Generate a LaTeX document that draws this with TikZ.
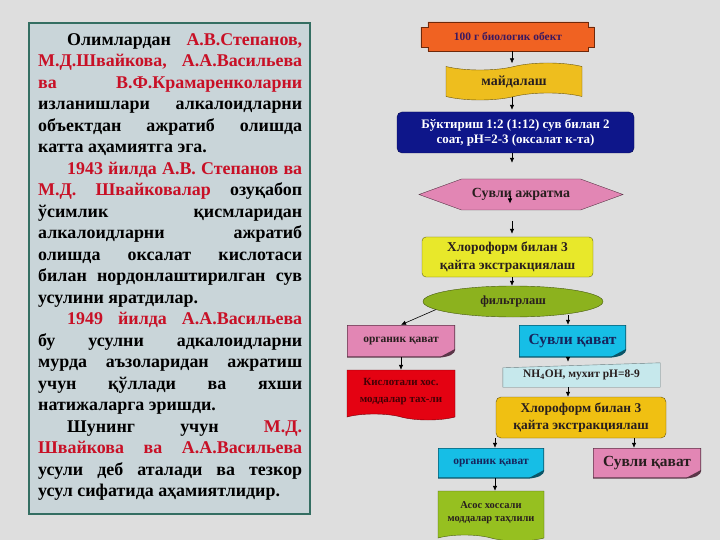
\documentclass[tikz,border=0pt]{standalone}
\usepackage{fontspec}
\setmainfont{Liberation Serif}
\usetikzlibrary{arrows.meta,shapes.geometric,shapes.symbols,backgrounds}

\definecolor{bgc}{RGB}{222,222,222}
\definecolor{panelfill}{RGB}{201,213,217}
\definecolor{paneledge}{RGB}{52,110,98}
\definecolor{namered}{RGB}{200,16,38}
\definecolor{objfill}{RGB}{240,98,34}
\definecolor{objedge}{RGB}{110,40,10}
\definecolor{objtext}{RGB}{58,24,96}
\definecolor{tapefill}{RGB}{238,190,30}
\definecolor{navyfill}{RGB}{14,22,138}
\definecolor{pinkfill}{RGB}{226,134,180}
\definecolor{yelfill}{RGB}{232,232,42}
\definecolor{olivefill}{RGB}{140,178,30}
\definecolor{cyanfill}{RGB}{22,190,230}
\definecolor{redfill}{RGB}{228,2,18}
\definecolor{nhfill}{RGB}{198,232,236}
\definecolor{goldfill}{RGB}{240,192,18}
\definecolor{greenfill}{RGB}{150,192,32}
\definecolor{darktext}{RGB}{40,30,30}
\definecolor{navytext}{RGB}{22,36,92}

\newlength{\panelw}
\setlength{\panelw}{264bp}
\newcommand{\pline}[1]{\makebox[\panelw][s]{#1}}
\newcommand{\pend}[1]{\makebox[\panelw][l]{#1}}
\newcommand{\nm}[1]{\textcolor{namered}{#1}}
\newcommand{\pind}{\hspace*{29bp}}
\newcommand{\fsz}[2]{\fontsize{#1}{#2}\selectfont\bfseries}

\tikzset{
    box/.style={align=center, inner sep=1bp, text=darktext},
    arr/.style={-{Latex[length=5bp,width=4.5bp]}, line width=0.6bp},
    doc/.style={tape, tape bend top=none, tape bend bottom=out and in, tape bend height=6bp},
    curl/.style 2 args={fill=#1, draw=none, path picture={
        \coordinate (se) at (path picture bounding box.south east);
        \coordinate (nw) at (path picture bounding box.north west);
        \fill[bgc] ([xshift=-15bp]se) .. controls ([xshift=-6bp,yshift=1bp]se) and ([xshift=-1bp,yshift=3bp]se) .. ([yshift=8bp]se) -- (se) -- cycle;
        \fill[#2] ([xshift=-15bp]se) -- ([yshift=8bp]se) .. controls ([xshift=-1bp,yshift=3bp]se) and ([xshift=-6bp,yshift=1bp]se) .. cycle;
        \draw[#2, line width=1.2bp] ([xshift=-15bp]se) .. controls ([xshift=-6bp,yshift=1bp]se) and ([xshift=-1bp,yshift=3bp]se) .. ([yshift=8bp]se) |- (nw) |- cycle;
    }},
}

\begin{document}
\begin{tikzpicture}[x=1bp, y=-1bp]
        \useasboundingbox (0,0) rectangle (720,540);

        \node[draw=paneledge, fill=panelfill, line width=2.5bp, minimum width=281bp, minimum height=491bp, inner sep=0] (panel) at (169.5,268.5) {};
        \node[anchor=north west, align=left, inner sep=0, font=\fsz{18}{21.6}] (txt) at (38,33) {%
            \pline{\pind Олимлардан \nm{А.В.Степанов,}}\\
            \pline{\nm{М.Д.Швайкова, А.А.Васильева}}\\
            \pline{\nm{ва В.Ф.Крамаренколарни}}\\
            \pline{изланишлари алкалоидларни}\\
            \pline{объектдан ажратиб олишда}\\
            \pend{катта аҳамиятга эга.}\\
            \pline{\pind\nm{1943 йилда А.В. Степанов ва}}\\
            \pline{\nm{М.Д. Швайковалар} озуқабоп}\\
            \pline{ўсимлик қисмларидан}\\
            \pline{алкалоидларни ажратиб}\\
            \pline{олишда оксалат кислотаси}\\
            \pline{билан нордонлаштирилган сув}\\
            \pend{усулини яратдилар.}\\
            \pline{\pind\nm{1949 йилда А.А.Васильева}}\\
            \pline{бу усулни адкалоидларни}\\
            \pline{мурда аъзоларидан ажратиш}\\
            \pline{учун қўллади ва яхши}\\
            \pend{натижаларга эришди.}\\
            \pline{\pind Шунинг учун \nm{М.Д.}}\\
            \pline{\nm{Швайкова ва А.А.Васильева}}\\
            \pline{усули деб аталади ва тезкор}\\
            \pend{усул сифатида аҳамиятлидир.}};

        \node[box, minimum width=160bp, minimum height=29bp, text=objtext, font=\fsz{11.5}{13}] (obj) at (508,36.5) {100 г биологик обект};
        \node[box, tape, tape bend height=7bp, fill=tapefill, draw=black!55!tapefill, minimum width=136bp, minimum height=37bp, font=\fsz{14}{15}] (mayda) at (514,81.5) {майдалаш};
        \node[box, rounded corners=5bp, fill=navyfill, draw=black!40!navyfill, text=white, minimum width=237bp, minimum height=41bp, font=\fsz{13}{15}] (bukt) at (515.5,132.5) {Бўктириш 1:2 (1:12) сув билан 2\\соат, pH=2-3 (оксалат к-та)};
        \node[box, signal, signal to=west and east, signal pointer angle=40, fill=pinkfill, draw=black!60!pinkfill, minimum width=204bp, minimum height=31bp, font=\fsz{14}{15}] (ajr) at (521,194.5) {Сувли ажратма};
        \node[box, rounded corners=4bp, fill=yelfill, draw=black!55!yelfill, minimum width=171bp, minimum height=40bp, font=\fsz{13.5}{17.5}] (chl1) at (507.5,257) {Хлороформ билан 3\\қайта экстракциялаш};
        \node[box, ellipse, fill=olivefill, draw=black!50!olivefill, minimum width=180bp, minimum height=31bp, font=\fsz{12.5}{14}] (filt) at (513,301.5) {фильтрлаш};
        \node[box, curl={pinkfill}{black!60!pinkfill}, minimum width=108bp, minimum height=32bp, font=\fsz{11.5}{13}] (org1) at (401,341) {органик қават};
        \node[box, curl={cyanfill}{black!55!cyanfill}, text=navytext, minimum width=107bp, minimum height=32bp, font=\fsz{15.5}{17}] (suv1) at (572.5,341) {Сувли қават};
        \node[box, doc, fill=redfill, draw=black!50!redfill, text=black!70!redfill, minimum width=108bp, minimum height=50bp, font=\fsz{11}{17}] (kisl) at (401,392) {Кислотали хос.\\моддалар тах-ли};
        \node[box, minimum width=157bp, minimum height=24bp, font=\fsz{11.5}{13}] (nh) at (581.5,375) {NH\textsubscript{4}OH, мухит pH=8-9};
        \node[box, rounded corners=5bp, fill=goldfill, draw=black!55!goldfill, minimum width=170bp, minimum height=41bp, font=\fsz{13.5}{16.5}] (chl2) at (581,417.5) {Хлороформ билан 3\\қайта экстракциялаш};
        \node[box, curl={cyanfill}{black!55!cyanfill}, text=navytext, minimum width=106bp, minimum height=30bp, font=\fsz{11.5}{13}] (org2) at (491,463) {органик қават};
        \node[box, curl={pinkfill}{black!60!pinkfill}, minimum width=108bp, minimum height=30bp, font=\fsz{15.5}{17}] (suv2) at (647,463) {Сувли қават};
        \node[box, doc, fill=greenfill, draw=black!50!greenfill, minimum width=106bp, minimum height=50bp, font=\fsz{10.5}{13}] (asos) at (491,513) {Асос хоссали\\моддалар таҳлили};

        \coordinate (spine) at (512,0);
        \coordinate (rspine) at (568,0);
        \coordinate (lspine) at (495,0);
        \coordinate (sspine) at (634,0);

        \draw[arr, shorten >=3bp] (obj.south -| spine) -- (mayda.north -| spine);
        \draw[arr, shorten >=2bp] (mayda.south -| spine) -- (bukt.north -| spine);
        \draw[arr, shorten >=16bp] (bukt.south -| spine) -- (ajr.north -| spine);
        \draw[arr] ([xshift=-11bp,yshift=-2bp]ajr.center) -- ++(0,7);
        \draw[arr, shorten <=11bp, shorten >=3bp] (ajr.south -| spine) -- (chl1.north -| spine);
        \draw[arr] (chl1.south -| spine) -- (filt.north -| spine);
        \draw[arr] (filt.186) -- (org1.north);
        \draw[arr, shorten <=-2bp] (filt.south -| rspine) -- (suv1.north -| rspine);
        \draw[arr] (org1.south) -- (kisl.north);
        \draw[arr, shorten >=1bp] (suv1.south -| rspine) -- (nh.north -| rspine);
        \draw[arr] (nh.south -| rspine) -- (chl2.north -| rspine);
        \draw[arr] (chl2.south -| lspine) -- (org2.north -| lspine);
        \draw[arr] (chl2.south -| sspine) -- (suv2.north -| sspine);
        \draw[arr] (org2.south -| lspine) -- (asos.north -| lspine);

        \begin{pgfonlayer}{background}
            \fill[bgc] (0,0) rectangle (720,540);
            \filldraw[fill=objfill, draw=objedge] (obj.north west) -- (obj.north east) -- ++(0,5) -- ++(6,0) -- ++(0,20) -- ++(-6,0) -- (obj.south east) -- (obj.south west) -- ++(0,-4) -- ++(-7,0) -- ++(0,-20) -- ++(7,0) -- cycle;
            \filldraw[fill=nhfill, draw=black!45!nhfill] (nh.south west) -- (nh.south east) -- (nh.north east) -- ([yshift=-5bp]nh.north west) -- cycle;
        \end{pgfonlayer}
    \end{tikzpicture}
\end{document}
